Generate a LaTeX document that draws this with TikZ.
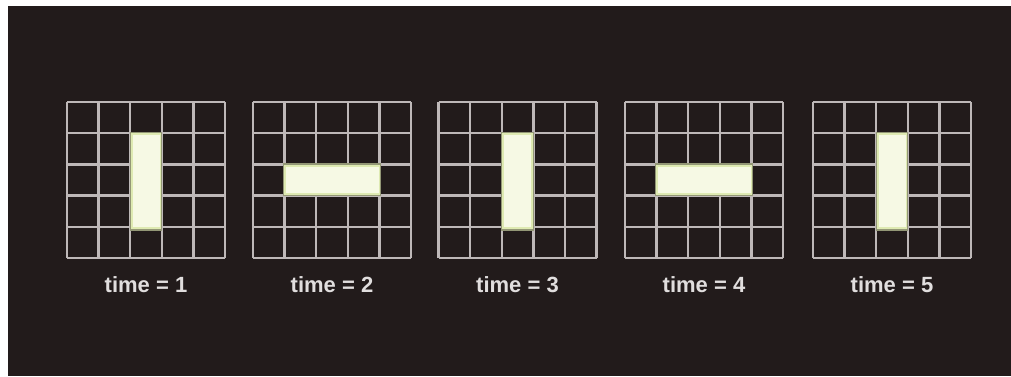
\documentclass[tikz,border=0pt]{standalone}
\usepackage{fontspec}
\setmainfont{Liberation Sans}
\definecolor{bgdark}{RGB}{34,27,27}
\definecolor{gridgray}{RGB}{190,184,184}
\definecolor{barcore}{RGB}{246,249,228}
\definecolor{barglow}{RGB}{222,234,178}
\definecolor{labelgray}{RGB}{225,222,222}
\tikzset{
  gridline/.style={draw=gridgray,line width=2.4pt},
  barglowbox/.style={fill=barglow,draw=barglow!60!bgdark,line width=1.2pt},
  barcorebox/.style={fill=barcore,draw=none},
  timelabel/.style={text=labelgray,font=\fontsize{22}{24}\selectfont\bfseries,inner sep=0pt,anchor=center}
}
\begin{document}
\begin{tikzpicture}[x=1pt,y=-1pt]
\useasboundingbox (0,0) rectangle (1011,376);
\fill[white] (0,0) rectangle (1011,376);
\fill[bgdark] (8,6) rectangle (1011,376);
% grids
\foreach \gx [count=\i] in {67,253,438.5,625,813}{
  \foreach \k in {0,...,5}{
    \draw[gridline] (\gx+\k*31.6,102) -- (\gx+\k*31.6,258);
    \draw[gridline] (\gx,102+\k*31.2) -- (\gx+158,102+\k*31.2);
  }
  \node[timelabel] (t\i) at (\gx+79,285) {time = \i};
}
% vertical bars (times 1,3,5)
\foreach \gx/\nm in {67/b1,438.5/b3,813/b5}{
  \draw[barglowbox] (\gx+63.2,132.5) rectangle (\gx+94.8,230);
  \node[barcorebox,minimum width=27pt,minimum height=92pt,inner sep=0pt] (\nm) at (\gx+79,181.2) {};
}
% horizontal bars (times 2,4)
\foreach \gx/\nm in {253/b2,625/b4}{
  \draw[barglowbox] (\gx+30.6,164) rectangle (\gx+127.4,195.4);
  \node[barcorebox,minimum width=93pt,minimum height=26pt,inner sep=0pt] (\nm) at (\gx+79,179.7) {};
}
\end{tikzpicture}
\end{document}
